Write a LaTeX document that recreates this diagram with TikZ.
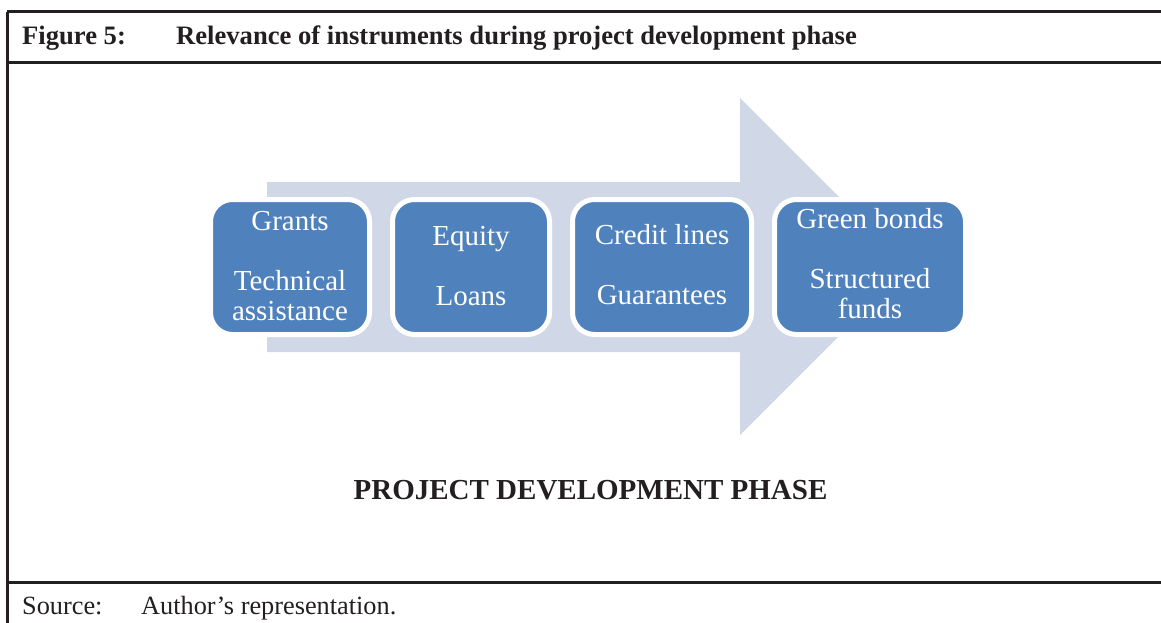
\documentclass[tikz,border=0pt]{standalone}
\usepackage{fontspec}
\setmainfont{Liberation Serif}
\definecolor{rulecol}{HTML}{231F20}
\definecolor{arrowcol}{HTML}{D0D8E8}
\definecolor{boxcol}{HTML}{4F81BD}
\begin{document}
\begin{tikzpicture}[x=1pt,y=-1pt,
  rulestyle/.style={draw=rulecol,line width=3pt},
  instbox/.style={fill=boxcol,draw=white,line width=5pt,rounded corners=22pt},
  insttext/.style={anchor=base,inner sep=0pt,text=white,font=\fontsize{29}{30}\selectfont},
  headtext/.style={anchor=base west,inner sep=0pt,text=rulecol,font=\fontsize{26.6}{30}\selectfont\bfseries},
  srctext/.style={anchor=base west,inner sep=0pt,text=rulecol,font=\fontsize{26.3}{30}\selectfont}]
\useasboundingbox (0,0) rectangle (1161,623);
% frame
\coordinate (tl) at (7,12);
\coordinate (tr) at (1161,12);
\coordinate (hl) at (7,63);
\coordinate (hr) at (1161,63);
\coordinate (bl) at (7,582);
\coordinate (br) at (1161,582);
\coordinate (ll) at (7,623);
\draw[rulestyle] (tl) -- (tr);
\draw[rulestyle] (hl) -- (hr);
\draw[rulestyle] (bl) -- (br);
\draw[rulestyle] (tl) -- (ll);
% header
\node[headtext] (fig) at (22,45) {Figure 5:};
\node[headtext] (title) at (176,45) {Relevance of instruments during project development phase};
% big arrow
\fill[arrowcol] (267,182) -- (740,182) -- (740,98) -- (908.5,266.5) -- (740,435) -- (740,352) -- (267,352) -- cycle;
% boxes
\path[instbox] (210.5,199.5) rectangle (369.5,334.5);
\path[instbox] (392.5,199.5) rectangle (549.5,334.5);
\path[instbox] (572.5,199.5) rectangle (751.5,334.5);
\path[instbox] (774.5,199.5) rectangle (965.5,334.5);
\node[insttext] (t1) at (290,230) {\begin{tabular}[t]{@{}c@{}}Grants\\[30pt]Technical\\assistance\end{tabular}};
\node[insttext] (t2) at (471,245) {\begin{tabular}[t]{@{}c@{}}Equity\\[30pt]Loans\end{tabular}};
\node[insttext] (t3) at (662,244) {\begin{tabular}[t]{@{}c@{}}Credit lines\\[30pt]Guarantees\end{tabular}};
\node[insttext] (t4) at (870,228) {\begin{tabular}[t]{@{}c@{}}Green bonds\\[30pt]Structured\\funds\end{tabular}};
% phase label
\node[anchor=base,inner sep=0pt,text=rulecol,font=\fontsize{29}{30}\selectfont\bfseries] (phase) at (590.5,499) {PROJECT DEVELOPMENT PHASE};
% source
\node[srctext] (src) at (22,614) {Source:};
\node[srctext] (srct) at (141,614) {Author’s representation.};
\end{tikzpicture}
\end{document}
